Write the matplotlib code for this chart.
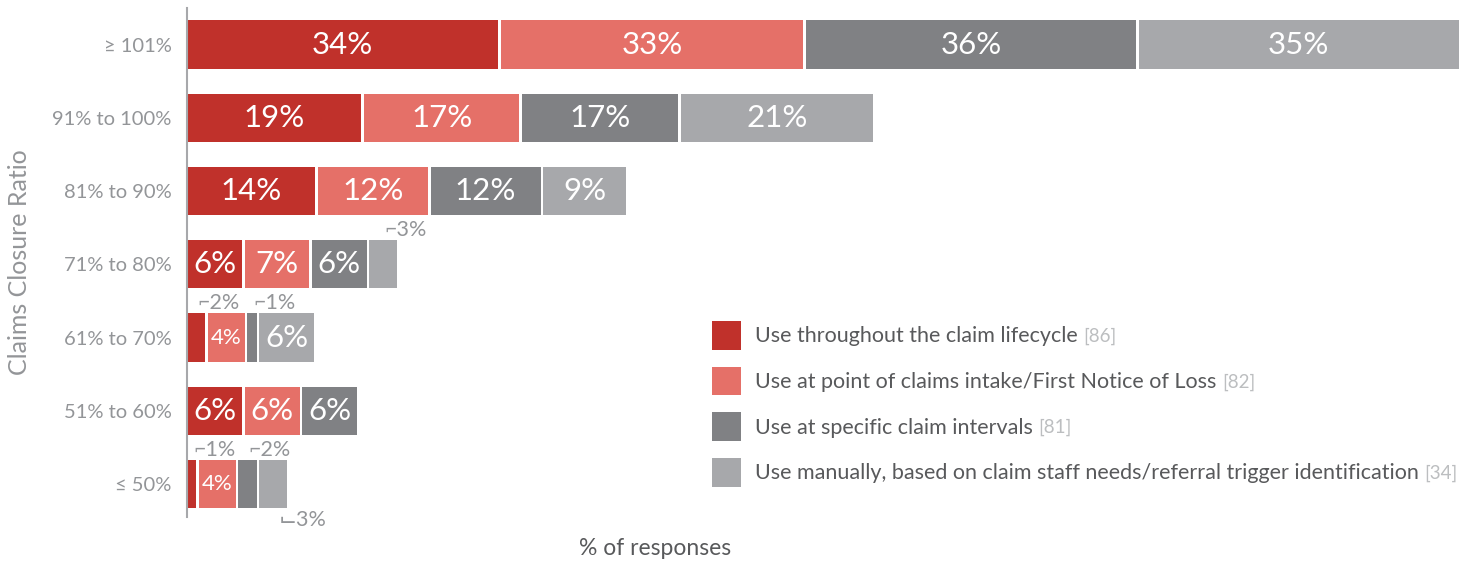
import matplotlib
matplotlib.use("Agg")
import matplotlib.pyplot as plt
from matplotlib.patches import Patch
import numpy as np

plt.rcParams['font.family'] = ['Lato', 'DejaVu Sans']

categories = ["≥ 101%", "91% to 100%", "81% to 90%", "71% to 80%",
              "61% to 70%", "51% to 60%", "≤ 50%"]
series_names = ["Use throughout the claim lifecycle",
                "Use at point of claims intake/First Notice of Loss",
                "Use at specific claim intervals",
                "Use manually, based on claim staff needs/referral trigger identification"]
series_counts = ["[86]", "[82]", "[81]", "[34]"]
throughout = [34, 19, 14, 6, 2, 6, 1]
intake = [33, 17, 12, 7, 4, 6, 4]
intervals = [36, 17, 12, 6, 1, 6, 2]
manual = [35, 21, 9, 3, 6, 0, 3]
values = [throughout, intake, intervals, manual]
colors = ["#C0312B", "#E57068", "#808184", "#A7A8AB"]
# small segments whose callout sits under the bar instead of above it
below = [(6, 3)]

grey = "#939598"
gap = 0.3  # white space between stacked segments, in data units

fig = plt.figure(figsize=(14.73, 5.63), dpi=100)
ax = fig.add_axes([187 / 1473, 46 / 563, 1273 / 1473, 509 / 563])

y = np.arange(len(categories))
left = np.zeros(len(categories))
for s, vals in enumerate(values):
    vals = np.array(vals, dtype=float)
    ax.barh(y, vals, left=left, height=0.66, color=colors[s], linewidth=0)
    for i, v in enumerate(vals):
        if v <= 0:
            continue
        mid = left[i] + v / 2
        if v >= 5:
            ax.text(mid, y[i], f"{int(v)}%", ha="center", va="center",
                    color="white", fontsize=22.5)
        elif v == 4:
            ax.text(mid, y[i], f"{int(v)}%", ha="center", va="center",
                    color="white", fontsize=16)
        else:
            if (i, s) in below:
                ax.annotate(f"⌙{int(v)}%", (mid, y[i] + 0.33),
                            xytext=(4, -1), textcoords="offset points",
                            ha="left", va="top", color=grey, fontsize=15.5)
            else:
                ax.annotate(f"⌐{int(v)}%", (mid, y[i] - 0.33),
                            xytext=(1, 0), textcoords="offset points",
                            ha="left", va="bottom", color=grey, fontsize=15.5)
    left += np.where(vals > 0, vals + gap, 0)

ax.set_xlim(0, 139)
ax.set_ylim(6.45, -0.5)
ax.set_yticks(y)
ax.set_yticklabels(categories, fontsize=14.5, color=grey)
ax.tick_params(axis="y", length=0, pad=11)
ax.set_xticks([])
for side in ["top", "right", "bottom"]:
    ax.spines[side].set_visible(False)
ax.spines["left"].set_color("#A7A8AB")
ax.spines["left"].set_linewidth(1.5)

ax.set_ylabel("Claims Closure Ratio", fontsize=18, color=grey)
ax.yaxis.set_label_coords(-0.1225, 0.5)
ax.set_xlabel("% of responses", fontsize=16.5, color="#58595B")
ax.xaxis.set_label_coords(0.368, -0.042)

handles = [Patch(facecolor=c) for c in colors]
leg = ax.legend(handles, series_names, loc="upper left",
                bbox_to_anchor=(712 / 1473, 1 - 321 / 563),
                bbox_transform=fig.transFigure, frameon=False,
                fontsize=15.5, handlelength=1.34, handleheight=1.68,
                handletextpad=0.65, labelspacing=0.78,
                borderpad=0, borderaxespad=0)
for t in leg.get_texts():
    t.set_color("#58595B")

fig.canvas.draw()
renderer = fig.canvas.get_renderer()
for t, cnt in zip(leg.get_texts(), series_counts):
    bb = t.get_window_extent(renderer)
    fig.text((bb.x1 + 6) / fig.bbox.width, (bb.y0 + bb.y1) / 2 / fig.bbox.height,
             cnt, ha="left", va="center", fontsize=13.5, color="#BCBEC0")

fig.savefig("out.png", dpi=100)
